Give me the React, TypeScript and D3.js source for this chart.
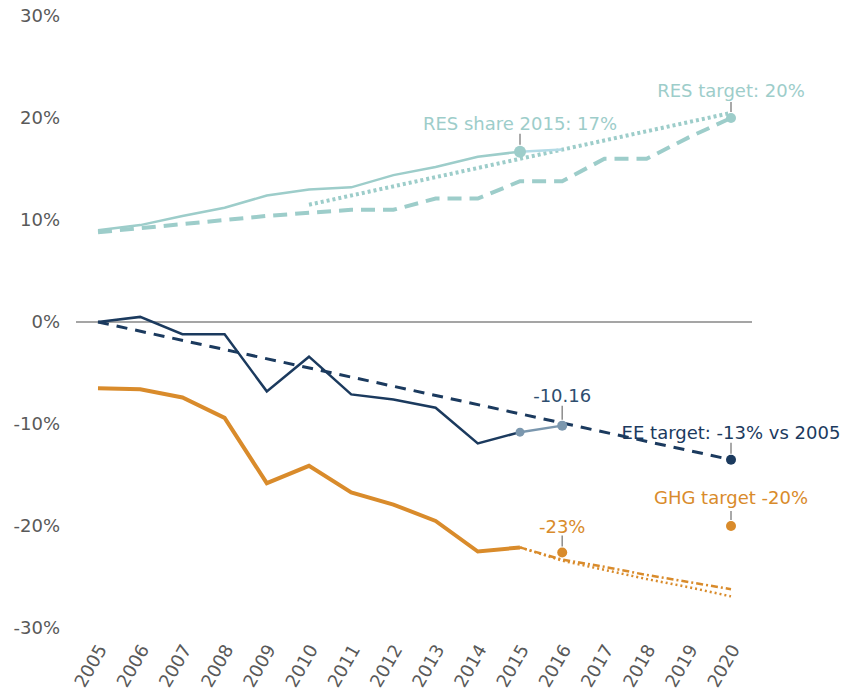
import React from "react";
import * as d3 from "d3";

const years = [2005, 2006, 2007, 2008, 2009, 2010, 2011, 2012, 2013, 2014, 2015, 2016, 2017, 2018, 2019, 2020];
const yTicks = [-30, -20, -10, 0, 10, 20, 30];

const resYears = [2005, 2006, 2007, 2008, 2009, 2010, 2011, 2012, 2013, 2014, 2015];
const resShare = [9.0, 9.5, 10.4, 11.2, 12.4, 13.0, 13.2, 14.4, 15.2, 16.2, 16.7];
const resEstYears = [2015, 2016];
const resEst = [16.7, 16.9];
const resTrajectory = [8.8, 9.2, 9.6, 10.0, 10.4, 10.7, 11.0, 11.0, 12.1, 12.1, 13.8, 13.8, 16.0, 16.0, 18.1, 20.0];
const resDottedYears = [2010, 2020];
const resDotted = [11.5, 20.5];

const eeYears = [2005, 2006, 2007, 2008, 2009, 2010, 2011, 2012, 2013, 2014, 2015];
const eeActual = [0, 0.5, -1.2, -1.2, -6.8, -3.4, -7.1, -7.6, -8.4, -11.9, -10.8];
const eeEstYears = [2015, 2016];
const eeEst = [-10.8, -10.16];
const eeTargetYears = [2005, 2020];
const eeTarget = [0, -13.5];

const ghgYears = [2005, 2006, 2007, 2008, 2009, 2010, 2011, 2012, 2013, 2014, 2015];
const ghgActual = [-6.5, -6.6, -7.4, -9.4, -15.8, -14.1, -16.7, -17.9, -19.5, -22.5, -22.1];
const ghgProjYears = [2015, 2016, 2017, 2018, 2019, 2020];
const ghgWem = [-22.1, -23.3, -24.0, -24.8, -25.5, -26.2];
const ghgWam = [-22.1, -23.4, -24.3, -25.2, -26.0, -26.9];

const C_RES = "#9dcdca";
const C_RES_EST = "#b3dbe6";
const C_EE = "#1b3a5e";
const C_EE_EST = "#7b97ae";
const C_GHG = "#d98b2b";
const C_AXIS = "#595959";
const C_LEADER = "#8c8c8c";
const FONT = "'DejaVu Sans', Verdana, sans-serif";

const annotations = [
  { year: 2015, value: 16.7, r: 6, color: C_RES, text: "RES share 2015: 17%", textColor: C_RES, lead: 18, lab: 28 },
  { year: 2020, value: 20, r: 5, color: C_RES, text: "RES target: 20%", textColor: C_RES, lead: 16, lab: 27 },
  { year: 2016, value: -10.16, r: 5, color: C_EE_EST, text: "-10.16", textColor: "#2e4d6e", lead: 20, lab: 30 },
  { year: 2020, value: -13.5, r: 5, color: C_EE, text: "EE target: -13% vs 2005", textColor: C_EE, lead: 17, lab: 27 },
  { year: 2020, value: -20, r: 5, color: C_GHG, text: "GHG target -20%", textColor: C_GHG, lead: 15, lab: 28 },
  { year: 2016, value: -22.6, r: 5, color: C_GHG, text: "-23%", textColor: C_GHG, lead: 17, lab: 26 },
];

export default function App() {
  const W = 846, H = 695;
  const x = d3.scaleLinear().domain([2005, 2020]).range([98, 731]);
  const y = d3.scaleLinear().domain([-30, 30]).range([628, 16]);
  const line = d3.line<[number, number]>().x((d) => x(d[0])).y((d) => y(d[1]));
  const zip = (xs: number[], vs: number[]) => xs.map((xx, i) => [xx, vs[i]] as [number, number]);

  return (
    <svg width={W} height={H} style={{ position: "absolute", left: 0, top: 0, background: "#fff" }} fontFamily={FONT}>
      {yTicks.map((t) => (
        <text key={t} x={60} y={y(t)} dy="0.35em" textAnchor="end" fontSize={18} fill={C_AXIS}>
          {t + "%"}
        </text>
      ))}
      {years.map((yr) => (
        <text
          key={yr}
          transform={`translate(${x(yr) + 4},${646}) rotate(-60)`}
          textAnchor="end"
          dy="0.35em"
          fontSize={18}
          fill={C_AXIS}
        >
          {yr}
        </text>
      ))}
      <line x1={76} x2={752} y1={y(0)} y2={y(0)} stroke="#4d4d4d" strokeWidth={1.2} />

      {/* RES */}
      <path d={line(zip(years, resTrajectory))!} fill="none" stroke={C_RES} strokeWidth={4} strokeDasharray="14,8" />
      <path d={line(zip(resDottedYears, resDotted))!} fill="none" stroke={C_RES} strokeWidth={4} strokeDasharray="3,3" />
      <path d={line(zip(resYears, resShare))!} fill="none" stroke={C_RES} strokeWidth={2.5} />
      <path d={line(zip(resEstYears, resEst))!} fill="none" stroke={C_RES_EST} strokeWidth={2.5} />

      {/* EE */}
      <path d={line(zip(eeTargetYears, eeTarget))!} fill="none" stroke={C_EE} strokeWidth={3} strokeDasharray="11,8" />
      <path d={line(zip(eeYears, eeActual))!} fill="none" stroke={C_EE} strokeWidth={2.5} />
      <path d={line(zip(eeEstYears, eeEst))!} fill="none" stroke={C_EE_EST} strokeWidth={2.5} />
      <circle cx={x(2015)} cy={y(-10.8)} r={4.5} fill={C_EE_EST} />

      {/* GHG */}
      <path d={line(zip(ghgYears, ghgActual))!} fill="none" stroke={C_GHG} strokeWidth={4} />
      <path d={line(zip(ghgProjYears, ghgWem))!} fill="none" stroke={C_GHG} strokeWidth={2.5} strokeDasharray="7,3,2,3" />
      <path d={line(zip(ghgProjYears, ghgWam))!} fill="none" stroke={C_GHG} strokeWidth={2.5} strokeDasharray="2,3" />

      {annotations.map((a, i) => {
        const cx = x(a.year), cy = y(a.value);
        return (
          <g key={i}>
            <line x1={cx} x2={cx} y1={cy - a.r - 1} y2={cy - a.lead} stroke={C_LEADER} strokeWidth={1.5} />
            <circle cx={cx} cy={cy} r={a.r} fill={a.color} />
            <text x={cx} y={cy - a.lab} dy="0.35em" textAnchor="middle" fontSize={18} fill={a.textColor}>
              {a.text}
            </text>
          </g>
        );
      })}
    </svg>
  );
}
